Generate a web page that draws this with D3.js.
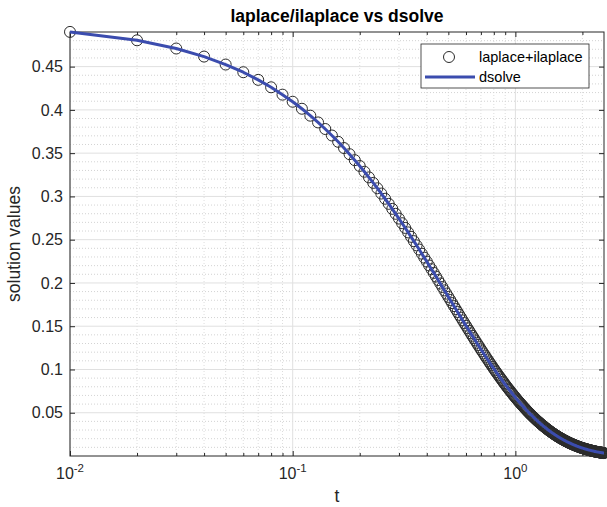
<!DOCTYPE html>
<html>
<head>
<meta charset="utf-8">
<script src="https://cdn.jsdelivr.net/npm/d3@7"></script>
<style>
	body { margin: 0; background: #fff; }
	svg { font-family: "Liberation Sans", Arial, Helvetica, sans-serif; }
</style>
</head>
<body>
<div id="chart"></div>
<script>
// sample grid: t = 0.01 : 0.01 : 2.5 (one circle every 0.01)
const tValues = d3.range(1, 251).map((k) => k / 100);

// values, one per sample
const laplaceValues = [
	0.4901, 0.4804, 0.4709, 0.4616, 0.4524, 0.4435, 0.4347, 0.4261, 0.4176, 0.4094,
	0.4013, 0.3933, 0.3855, 0.3779, 0.3704, 0.3631, 0.3559, 0.3488, 0.3419, 0.3352,
	0.3285, 0.3220, 0.3156, 0.3094, 0.3033, 0.2973, 0.2914, 0.2856, 0.2799, 0.2744,
	0.2690, 0.2636, 0.2584, 0.2533, 0.2483, 0.2434, 0.2386, 0.2338, 0.2292, 0.2247,
	0.2202, 0.2159, 0.2116, 0.2074, 0.2033, 0.1993, 0.1953, 0.1914, 0.1877, 0.1839,
	0.1803, 0.1767, 0.1732, 0.1698, 0.1664, 0.1631, 0.1599, 0.1567, 0.1536, 0.1506,
	0.1476, 0.1447, 0.1418, 0.1390, 0.1363, 0.1336, 0.1309, 0.1283, 0.1258, 0.1233,
	0.1209, 0.1185, 0.1161, 0.1138, 0.1116, 0.1094, 0.1072, 0.1051, 0.1030, 0.1009,
	0.0989, 0.0970, 0.0951, 0.0932, 0.0913, 0.0895, 0.0878, 0.0860, 0.0843, 0.0826,
	0.0810, 0.0794, 0.0778, 0.0763, 0.0748, 0.0733, 0.0719, 0.0704, 0.0690, 0.0677,
	0.0663, 0.0650, 0.0637, 0.0625, 0.0612, 0.0600, 0.0588, 0.0577, 0.0565, 0.0554,
	0.0543, 0.0532, 0.0522, 0.0511, 0.0501, 0.0491, 0.0482, 0.0472, 0.0463, 0.0454,
	0.0445, 0.0436, 0.0427, 0.0419, 0.0410, 0.0402, 0.0394, 0.0387, 0.0379, 0.0371,
	0.0364, 0.0357, 0.0350, 0.0343, 0.0336, 0.0329, 0.0323, 0.0317, 0.0310, 0.0304,
	0.0298, 0.0292, 0.0286, 0.0281, 0.0275, 0.0270, 0.0264, 0.0259, 0.0254, 0.0249,
	0.0244, 0.0239, 0.0234, 0.0230, 0.0225, 0.0221, 0.0216, 0.0212, 0.0208, 0.0204,
	0.0200, 0.0196, 0.0192, 0.0188, 0.0184, 0.0181, 0.0177, 0.0174, 0.0170, 0.0167,
	0.0164, 0.0160, 0.0157, 0.0154, 0.0151, 0.0148, 0.0145, 0.0142, 0.0139, 0.0137,
	0.0134, 0.0131, 0.0129, 0.0126, 0.0124, 0.0121, 0.0119, 0.0116, 0.0114, 0.0112,
	0.0110, 0.0108, 0.0105, 0.0103, 0.0101, 0.0099, 0.0097, 0.0095, 0.0093, 0.0092,
	0.0090, 0.0088, 0.0086, 0.0085, 0.0083, 0.0081, 0.0080, 0.0078, 0.0077, 0.0075,
	0.0074, 0.0072, 0.0071, 0.0069, 0.0068, 0.0067, 0.0065, 0.0064, 0.0063, 0.0061,
	0.0060, 0.0059, 0.0058, 0.0057, 0.0056, 0.0054, 0.0053, 0.0052, 0.0051, 0.0050,
	0.0049, 0.0048, 0.0047, 0.0046, 0.0046, 0.0045, 0.0044, 0.0043, 0.0042, 0.0041,
	0.0040, 0.0040, 0.0039, 0.0038, 0.0037, 0.0037, 0.0036, 0.0035, 0.0034, 0.0034
];
// dsolve lies right on top of the laplace/ilaplace points
const dsolveValues = laplaceValues;

const seriesNames = ["laplace+ilaplace", "dsolve"];
const xTicks = [0.01, 0.1, 1];
const xTickExponents = ["-2", "-1", "0"];
const xMinorTicks = [0.02, 0.03, 0.04, 0.05, 0.06, 0.07, 0.08, 0.09,
	0.2, 0.3, 0.4, 0.5, 0.6, 0.7, 0.8, 0.9, 2];
const yTicks = [0.05, 0.1, 0.15, 0.2, 0.25, 0.3, 0.35, 0.4, 0.45];
const yTickLabels = ["0.05", "0.1", "0.15", "0.2", "0.25", "0.3", "0.35", "0.4", "0.45"];
const yMinorTicks = d3.range(1, 49).filter((k) => k % 5 !== 0).map((k) => k / 100);

const width = 607;
const height = 507;
const margin = { top: 32, right: 3, bottom: 51, left: 70 };
const axisColor = "#262626";
const lineColor = "#3b4cae";

const svg = d3.select("#chart").append("svg")
	.attr("width", width)
	.attr("height", height);

const x = d3.scaleLog()
	.domain([0.01, 2.5])
	.range([margin.left, width - margin.right]);
const y = d3.scaleLinear()
	.domain([0, 0.49])
	.range([height - margin.bottom, margin.top]);

const [x0, x1] = x.range();
const [y0, y1] = y.range();

// GRID
// -------
const grid = svg.append("g");
grid.selectAll(".yminor")
	.data(yMinorTicks)
	.join("line")
	.attr("x1", x0).attr("x2", x1)
	.attr("y1", (d) => y(d)).attr("y2", (d) => y(d))
	.attr("stroke", "#c8c8c8")
	.attr("stroke-width", 0.8)
	.attr("stroke-dasharray", "1,2");
grid.selectAll(".xminor")
	.data(xMinorTicks)
	.join("line")
	.attr("x1", (d) => x(d)).attr("x2", (d) => x(d))
	.attr("y1", y1).attr("y2", y0)
	.attr("stroke", "#d4d4d4")
	.attr("stroke-width", 0.8)
	.attr("stroke-dasharray", "1,2");
grid.selectAll(".ymajor")
	.data(yTicks)
	.join("line")
	.attr("x1", x0).attr("x2", x1)
	.attr("y1", (d) => y(d)).attr("y2", (d) => y(d))
	.attr("stroke", "#e0e0e0")
	.attr("stroke-width", 1);
grid.selectAll(".xmajor")
	.data(xTicks)
	.join("line")
	.attr("x1", (d) => x(d)).attr("x2", (d) => x(d))
	.attr("y1", y1).attr("y2", y0)
	.attr("stroke", "#e0e0e0")
	.attr("stroke-width", 1);

// AXES (ticks point inward, box on)
// -------
const styleAxis = (g) => {
	g.select(".domain").remove();
	g.selectAll("line").attr("stroke", axisColor);
	g.selectAll("text").attr("fill", axisColor).style("font-size", "16px");
};

svg.append("g")
	.attr("transform", `translate(0,${y0})`)
	.call(d3.axisBottom(x).tickValues(xTicks).tickSize(-5).tickFormat(""))
	.call(styleAxis);
svg.append("g")
	.attr("transform", `translate(0,${y0})`)
	.call(d3.axisBottom(x).tickValues(xMinorTicks).tickSize(-3).tickFormat(""))
	.call(styleAxis);
svg.append("g")
	.attr("transform", `translate(0,${y1})`)
	.call(d3.axisTop(x).tickValues(xTicks).tickSize(-5).tickFormat(""))
	.call(styleAxis);
svg.append("g")
	.attr("transform", `translate(0,${y1})`)
	.call(d3.axisTop(x).tickValues(xMinorTicks).tickSize(-3).tickFormat(""))
	.call(styleAxis);
svg.append("g")
	.attr("transform", `translate(${x0},0)`)
	.call(d3.axisLeft(y).tickValues(yTicks).tickSize(-5).tickPadding(7)
		.tickFormat((d, i) => yTickLabels[i]))
	.call(styleAxis);
svg.append("g")
	.attr("transform", `translate(${x1},0)`)
	.call(d3.axisRight(y).tickValues(yTicks).tickSize(-5).tickFormat(""))
	.call(styleAxis);

// x tick labels as powers of ten
const xLabels = svg.append("g")
	.selectAll("text")
	.data(xTicks)
	.join("text")
	.attr("x", (d) => x(d))
	.attr("y", y0 + 23)
	.attr("text-anchor", "middle")
	.attr("fill", axisColor)
	.style("font-size", "16px");
xLabels.append("tspan").text("10");
xLabels.append("tspan")
	.attr("dy", -7)
	.style("font-size", "11.5px")
	.text((d, i) => xTickExponents[i]);

svg.append("rect")
	.attr("x", x0).attr("y", y1)
	.attr("width", x1 - x0).attr("height", y0 - y1)
	.attr("fill", "none")
	.attr("stroke", axisColor)
	.attr("stroke-width", 1);

// DATA
// -------
const plot = svg.append("g");
plot.selectAll("circle")
	.data(tValues)
	.join("circle")
	.attr("cx", (d) => x(d))
	.attr("cy", (d, i) => y(laplaceValues[i]))
	.attr("r", 5.5)
	.attr("fill", "none")
	.attr("stroke", "#2b2b2b")
	.attr("stroke-width", 1);

const line = d3.line()
	.x((d) => x(d))
	.y((d, i) => y(dsolveValues[i]));
plot.append("path")
	.datum(tValues)
	.attr("d", line)
	.attr("fill", "none")
	.attr("stroke", lineColor)
	.attr("stroke-width", 3)
	.attr("stroke-linejoin", "round");

// TEXT
// -------
svg.append("text")
	.attr("x", (x0 + x1) / 2)
	.attr("y", 22)
	.attr("text-anchor", "middle")
	.style("font-size", "17.5px")
	.style("font-weight", "bold")
	.attr("fill", "#000")
	.text("laplace/ilaplace vs dsolve");
svg.append("text")
	.attr("x", (x0 + x1) / 2)
	.attr("y", 502)
	.attr("text-anchor", "middle")
	.style("font-size", "17.5px")
	.attr("fill", axisColor)
	.text("t");
svg.append("text")
	.attr("transform", `translate(20,${(y0 + y1) / 2}) rotate(-90)`)
	.attr("text-anchor", "middle")
	.style("font-size", "17.5px")
	.attr("fill", axisColor)
	.text("solution values");

// LEGEND
// -------
const legend = svg.append("g").attr("transform", "translate(421,44)");
legend.append("rect")
	.attr("width", 168).attr("height", 44)
	.attr("fill", "#fff")
	.attr("stroke", axisColor)
	.attr("stroke-width", 0.8);
legend.append("circle")
	.attr("cx", 28).attr("cy", 13)
	.attr("r", 5.5)
	.attr("fill", "none")
	.attr("stroke", "#2b2b2b");
legend.append("line")
	.attr("x1", 4).attr("x2", 54)
	.attr("y1", 33).attr("y2", 33)
	.attr("stroke", lineColor)
	.attr("stroke-width", 3);
legend.selectAll(".label")
	.data(seriesNames)
	.join("text")
	.attr("x", 58)
	.attr("y", (d, i) => 18 + i * 20)
	.style("font-size", "14.5px")
	.attr("fill", "#000")
	.text((d) => d);
</script>
</body>
</html>
